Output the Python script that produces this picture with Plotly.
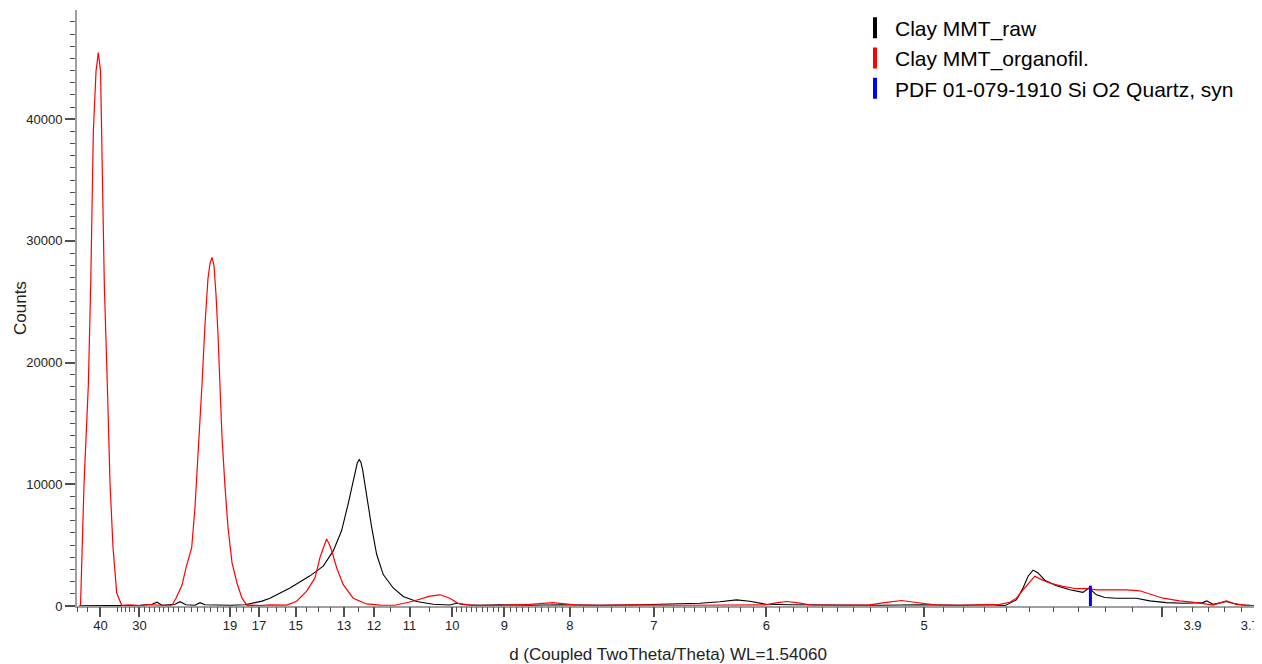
import numpy as np
import plotly.graph_objects as go

WL = 1.5406  # Cu K-alpha wavelength (Angstrom)

# ---- Data (2theta in degrees, intensity in counts) ----
raw_2theta = [1.823, 2.199, 2.576, 2.953, 3.179, 3.273, 3.367, 3.612, 3.706, 3.819,
              3.989, 4.083, 4.177, 4.366, 4.648, 4.930, 5.081, 5.250, 5.401, 5.527,
              5.778, 6.155, 6.405, 6.594, 6.752, 6.876, 6.970, 7.046, 7.083, 7.115,
              7.147, 7.223, 7.317, 7.411, 7.536, 7.724, 7.912, 8.165, 8.477, 8.792,
              8.918, 9.074, 9.357, 9.733, 10.30, 10.864, 11.617, 12.37, 13.12, 13.50,
              13.878, 14.19, 14.443, 14.757, 15.196, 15.95, 16.89, 17.645, 18.40, 18.963,
              19.246, 19.466, 19.591, 19.686, 19.78, 19.874, 20.0, 20.22, 20.47, 20.72,
              20.833, 20.973, 21.13, 21.35, 21.727, 21.977, 22.29, 22.61, 22.98, 23.05,
              23.17, 23.42, 23.546, 23.734, 24.03]
raw_counts = [20, 20, 60, 60, 140, 310, 60, 140, 350, 100,
              60, 270, 100, 60, 60, 100, 220, 400, 640, 900,
              1480, 2480, 3280, 4530, 6200, 8420, 10370, 11750, 12030, 11810,
              11200, 8980, 6480, 4250, 2580, 1480, 780, 370, 140, 80,
              220, 100, 60, 100, 60, 100, 60, 100, 140, 220,
              350, 500, 390, 140, 100, 60, 60, 100, 60, 100,
              30, 500, 1480, 2450, 2950, 2720, 2120, 1670, 1330, 1120,
              1480, 920, 700, 640, 640, 420, 280, 220, 280, 420,
              140, 370, 220, 80, 30]

org_2theta = [1.804, 1.832, 1.898, 1.979, 2.024, 2.073, 2.124, 2.167, 2.209, 2.231,
              2.280, 2.337, 2.388, 2.444, 2.514, 2.608, 2.764, 2.953, 3.141, 3.329,
              3.480, 3.555, 3.631, 3.744, 3.819, 3.927, 3.989, 4.045, 4.083, 4.120,
              4.177, 4.233, 4.271, 4.309, 4.347, 4.384, 4.422, 4.460, 4.497, 4.554,
              4.610, 4.686, 4.780, 4.874, 4.968, 5.025, 5.213, 5.402, 5.590, 5.716,
              5.904, 6.093, 6.249, 6.343, 6.409, 6.469, 6.513, 6.564, 6.658, 6.782,
              6.970, 7.223, 7.473, 7.756, 8.095, 8.415, 8.604, 8.792, 8.943, 9.169,
              9.733, 10.30, 10.73, 11.146, 11.617, 12.37, 13.12, 13.878, 14.73, 14.97,
              15.14, 15.328, 15.573, 16.138, 16.70, 16.986, 17.30, 17.55, 17.927, 18.40,
              18.87, 19.152, 19.34, 19.466, 19.622, 19.749, 19.811, 19.937, 20.093, 20.344,
              20.596, 20.815, 20.973, 21.224, 21.538, 21.789, 21.977, 22.228, 22.54, 22.857,
              23.17, 23.42, 23.61, 23.86, 24.03]
org_counts = [0, 60, 10050, 18150, 26450, 38950, 43950, 45480, 43950, 38950,
              26450, 18150, 10050, 4800, 1060, 60, 100, 40, 120, 60,
              100, 60, 640, 1720, 3140, 4810, 8140, 12310, 14560, 18140,
              23140, 26890, 28140, 28640, 27970, 25640, 22310, 18140, 13970, 9810,
              6470, 3560, 1890, 640, 60, 80, 40, 100, 60, 80,
              390, 1220, 2310, 3980, 4810, 5500, 5140, 4560, 3140, 1750,
              640, 170, 80, 60, 390, 810, 920, 640, 220, 80,
              60, 140, 280, 100, 60, 100, 60, 100, 100, 270,
              370, 270, 100, 60, 100, 270, 450, 310, 100, 60,
              100, 140, 310, 640, 1480, 2170, 2450, 2170, 1890, 1620,
              1420, 1420, 1330, 1330, 1330, 1250, 980, 640, 420, 280,
              80, 420, 140, 30, 30]

quartz_2theta = [20.86]
quartz_counts = [1670]

# ---- Axis tick definitions (d-spacing, Angstrom) ----
d_label_vals = [40, 30, 19, 17, 15, 13, 12, 11, 10, 9, 8, 7, 6, 5, 3.9, 3.7]
d_label_text = ["40", "30", "19", "17", "15", "13", "12", "11", "10", "9", "8",
                "7", "6", "5", "3.9", "3.7"]
d_major_vals = [40, 30, 19, 17, 15, 13, 12, 11, 10, 9, 8, 7, 6, 5, 4.0]


def tt(d):
    return 2.0 * np.degrees(np.arcsin(WL / (2.0 * np.asarray(d, dtype=float))))


minor_pos = list(tt([50, 45, 35, 34, 33, 32, 31]))
minor_pos += list(np.linspace(tt(30), tt(24), 9)[1:])
minor_pos += list(np.linspace(tt(24), tt(19), 9)[1:-1])
minor_pos += list(tt([18.5, 18, 17.5, 16.5, 16, 15.5, 14.5, 14, 13.5, 12.5, 11.5, 10.5]))
minor_pos += list(tt(np.round(np.arange(9.9, 9.05, -0.1), 2)))
minor_pos += list(tt(np.round(np.arange(8.9, 8.05, -0.1), 2)))
minor_pos += list(np.linspace(tt(8), tt(7), 7)[1:-1])
minor_pos += list(tt(np.round(np.arange(6.9, 6.05, -0.1), 2)))
minor_pos += list(tt(np.round(np.arange(5.9, 5.05, -0.1), 2)))
minor_pos += list(tt(np.round(np.arange(4.9, 4.05, -0.1), 2)))
minor_pos += list(tt([3.95, 3.9, 3.85, 3.8, 3.75, 3.7]))

x_range = [float(tt(50)), float(tt(3.7)) + 0.004]
y_range = [0, 48975]

# label positions (the last label is nudged inward so it stays inside the page,
# as in the reference)
label_pos = [float(v) for v in tt(d_label_vals)]
label_pos[-1] -= 0.17

FONT = "Liberation Sans, Arial, sans-serif"
AXIS_GREY = "#a0a0a0"
TICK_GREY = "#505050"
TXT = "#222222"

fig = go.Figure()

fig.add_trace(go.Scatter(x=raw_2theta, y=raw_counts, mode="lines",
                         line=dict(color="black", width=1.1), showlegend=False,
                         hoverinfo="skip"))
fig.add_trace(go.Scatter(x=org_2theta, y=org_counts, mode="lines",
                         line=dict(color="#ff0000", width=1.2), showlegend=False,
                         hoverinfo="skip"))
for q, c in zip(quartz_2theta, quartz_counts):
    fig.add_trace(go.Scatter(x=[q, q], y=[0, c], mode="lines",
                             line=dict(color="#0000ff", width=3), showlegend=False,
                             hoverinfo="skip"))

# legend entries (vertical bar symbols)
legend_names = ["Clay MMT_raw", "Clay MMT_organofil.", "PDF 01-079-1910 Si O2 Quartz, syn"]
legend_colors = ["black", "#ff0000", "#0000ff"]
for name, col in zip(legend_names, legend_colors):
    fig.add_trace(go.Scatter(x=[0], y=[-10000], mode="markers", name=name,
                             marker=dict(symbol="line-ns", size=15, color=col,
                                         line=dict(width=4, color=col))))

# dummy traces to anchor overlay tick axes
fig.add_trace(go.Scatter(x=[None], y=[None], xaxis="x2", showlegend=False, hoverinfo="skip"))
fig.add_trace(go.Scatter(x=[None], y=[None], xaxis="x3", showlegend=False, hoverinfo="skip"))

# page body has an 8px margin: size the figure so the plot lands where the reference has it
fig.update_layout(
    width=1254, height=656,
    margin=dict(l=69, r=3, t=2, b=58, autoexpand=False),
    paper_bgcolor="white", plot_bgcolor="white",
    font=dict(family=FONT, color=TXT),
    xaxis=dict(range=x_range, tickmode="array",
               tickvals=label_pos, ticktext=d_label_text,
               ticks="outside", ticklen=6, tickcolor="rgba(0,0,0,0)",
               ticklabeloverflow="allow", automargin=False,
               showline=True, linecolor=AXIS_GREY, linewidth=2,
               showgrid=False, zeroline=False,
               tickfont=dict(size=13, family=FONT, color=TXT),
               title=dict(text="d (Coupled TwoTheta/Theta) WL=1.54060",
                          font=dict(size=17, family=FONT, color=TXT), standoff=20)),
    xaxis2=dict(range=x_range, overlaying="x", anchor="y", side="bottom", automargin=False,
                tickmode="array", tickvals=[float(v) for v in tt(d_major_vals)],
                ticks="outside", ticklen=10, tickwidth=1.5, tickcolor=TICK_GREY,
                showticklabels=False, showline=False, showgrid=False, zeroline=False),
    xaxis3=dict(range=x_range, overlaying="x", anchor="y", side="bottom", automargin=False,
                tickmode="array", tickvals=[float(v) for v in minor_pos],
                ticks="outside", ticklen=5, tickwidth=1.2, tickcolor=TICK_GREY,
                showticklabels=False, showline=False, showgrid=False, zeroline=False),
    yaxis=dict(range=y_range, tickmode="array", tickvals=[0, 10000, 20000, 30000, 40000],
               tickformat="d", ticks="outside", ticklen=10, tickwidth=1.5,
               tickcolor=TICK_GREY, automargin=False,
               minor=dict(dtick=1000, tick0=0, ticks="outside", ticklen=5,
                          tickcolor=TICK_GREY, tickwidth=1.2, showgrid=False),
               showline=True, linecolor=AXIS_GREY, linewidth=2,
               showgrid=False, zeroline=False,
               tickfont=dict(size=13, family=FONT, color=TXT)),
    legend=dict(x=0.6582, y=1.004, xanchor="left", yanchor="top",
                font=dict(size=21, family=FONT, color="black"),
                bgcolor="rgba(0,0,0,0)", itemsizing="trace"),
    annotations=[dict(text="Counts", textangle=-90, xref="paper", yref="paper",
                      x=(12 - 69) / 1182, y=0.5, xanchor="center", yanchor="middle",
                      showarrow=False, font=dict(size=17, family=FONT, color=TXT))],
)

fig.write_html("out.html")
